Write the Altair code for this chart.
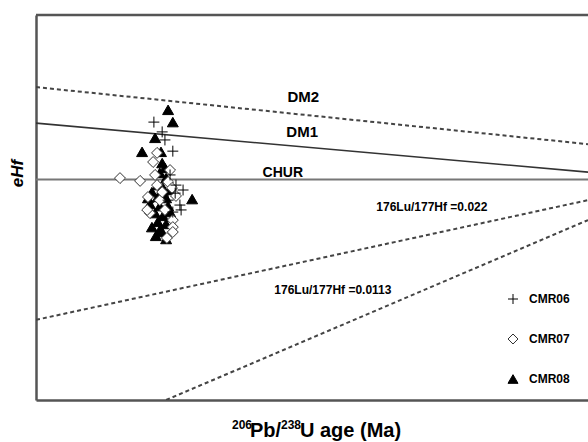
import altair as alt
import pandas as pd

# Zircon Hf isotope data: 206Pb/238U age (Ma) and epsilon Hf
cmr06_age = [299, 320, 327, 347, 340, 373, 353, 365, 368, 347, 355, 335]
cmr06_ehf = [16.4, 13.6, 11.3, 8.1, 1.3, -3.0, -3.9, -7.3, -8.7, -9.3, -1.6, -5.9]

cmr07_age = [213, 264, 307, 297, 302, 307, 284, 289, 314, 335, 345, 327, 347, 347, 347, 332, 282, 320, 355, 340]
cmr07_ehf = [0.4, -0.4, 7.6, 5.0, 1.3, -1.6, -5.0, -9.6, -5.9, -0.7, -2.4, -8.7, -11.6, -13.6, -15.0, -16.7, -8.7, -3.6, -4.7, 2.7]

cmr08_age = [335, 347, 302, 269, 317, 320, 327, 314, 330, 309, 322, 340, 294, 309, 330, 396, 289, 314, 335, 302,
             322, 309, 330, 294, 314, 304, 330, 320, 340, 284]
cmr08_ehf = [19.9, 16.4, 11.9, 7.9, 7.9, 4.7, 3.3, 1.9, 0.4, -1.6, -2.4, -3.0, -3.6, -5.0, -5.3, -5.6, -7.0, -7.6, -7.6, -9.6,
             -10.4, -12.1, -12.7, -13.6, -14.4, -16.1, -17.0, -15.0, -9.3, -5.3]

# Reference evolution lines (start / end points in age, eHf)
ref_names = ["CHUR", "DM1", "DM2", "Lu022", "Lu0113"]
ref_age0 = [0, 0, 0, 0, 330]
ref_age1 = [1400, 1400, 1400, 1400, 1400]
ref_ehf0 = [0, 16.1, 26.4, -40.1, -63]
ref_ehf1 = [0, 2.1, 10.1, -5.9, -11.6]

# Line annotations
label_text = ["DM2", "DM1", "CHUR", "176Lu/177Hf =0.022", "176Lu/177Hf =0.0113"]
label_age = [678, 675, 626, 1004, 753]
label_ehf = [23.6, 13.6, 1.9, -7.9, -31.6]
label_size = [15, 15, 14, 12, 12]

# Legend order
samples = ["CMR06", "CMR07", "CMR08"]

FONT = "Liberation Sans, Arial"
W, H = 552, 385
X_DOMAIN = [0, 1400]
Y_DOMAIN = [-63, 47]

pts = pd.concat([
    pd.DataFrame({"age": cmr08_age, "ehf": cmr08_ehf, "sample": "CMR08"}),
    pd.DataFrame({"age": cmr07_age, "ehf": cmr07_ehf, "sample": "CMR07"}),
    pd.DataFrame({"age": cmr06_age, "ehf": cmr06_ehf, "sample": "CMR06"}),
], ignore_index=True)

refs = pd.DataFrame({"name": ref_names, "a0": ref_age0, "a1": ref_age1, "e0": ref_ehf0, "e1": ref_ehf1})
labels = pd.DataFrame({"text": label_text, "age": label_age, "ehf": label_ehf, "fs": label_size})

xs = alt.Scale(domain=X_DOMAIN, nice=False, zero=False)
ys = alt.Scale(domain=Y_DOMAIN, nice=False, zero=False)

frame_color = "#555555"
x_axis = alt.Axis(title=None, ticks=False, labels=False, grid=False, domainColor=frame_color, domainWidth=2.5)
y_axis = alt.Axis(title="eHf", ticks=False, labels=False, grid=False, domainColor=frame_color, domainWidth=2.5,
                  titleFont=FONT, titleFontSize=17, titleFontStyle="italic", titleFontWeight="bold",
                  titleColor="black", titleX=-19, titleY=158, titleAngle=270,
                  titleAlign="center", titleBaseline="middle")

base_refs = alt.Chart(refs)


def ref_layer(names, color, width, dash=None):
    kw = dict(color=color, strokeWidth=width, clip=True)
    if dash:
        kw["strokeDash"] = dash
    return base_refs.transform_filter(
        alt.FieldOneOfPredicate(field="name", oneOf=names)
    ).mark_rule(**kw).encode(
        x=alt.X("a0:Q", scale=xs, axis=x_axis),
        x2="a1:Q",
        y=alt.Y("e0:Q", scale=ys, axis=y_axis),
        y2="e1:Q",
    )


chur = ref_layer(["CHUR"], "#777777", 2)
dm1 = ref_layer(["DM1"], "#333333", 1.6)
dashed = ref_layer(["DM2", "Lu022", "Lu0113"], "#444444", 2, [4, 3])

legend = alt.Legend(title=None, orient="none", legendX=471, legendY=278, direction="vertical",
                    labelFont=FONT, labelFontSize=12, labelFontWeight="bold", labelColor="black",
                    symbolSize=100, symbolStrokeWidth=1, rowPadding=26, labelOffset=10, padding=0)

cross_path = "M-1,0H1M0,-1V1"
points = alt.Chart(pts).mark_point(size=120, strokeWidth=1, opacity=1, filled=False).encode(
    x=alt.X("age:Q", scale=xs, axis=x_axis),
    y=alt.Y("ehf:Q", scale=ys, axis=y_axis),
    shape=alt.Shape("sample:N", scale=alt.Scale(domain=samples, range=[cross_path, "diamond", "triangle-up"]),
                    legend=legend),
    fill=alt.Fill("sample:N", scale=alt.Scale(domain=samples, range=["transparent", "white", "black"]),
                  legend=legend),
    stroke=alt.Stroke("sample:N", scale=alt.Scale(domain=samples, range=["black", "#333333", "black"]),
                      legend=legend),
)

texts = alt.Chart(labels).mark_text(font=FONT, fontWeight="bold", color="black", align="center",
                                     baseline="middle").encode(
    x=alt.X("age:Q", scale=xs, axis=x_axis),
    y=alt.Y("ehf:Q", scale=ys, axis=y_axis),
    text="text:N",
    size=alt.Size("fs:Q", scale=None),
)

# Top edge of the frame
top_edge = alt.Chart(pd.DataFrame({"k": [0]})).mark_rule(color=frame_color, strokeWidth=2.5).encode(
    x=alt.value(0), x2=alt.value(W), y=alt.value(0)
)

# x-axis title with superscript isotope masses
xt_text = ["206", "Pb/", "238", "U age (Ma)"]
xt_x = [196, 214, 245, 264]
xt_y = [414, 422, 414, 422]
xt_size = [12, 20, 12, 20]
xtitle = alt.Chart(pd.DataFrame({"t": xt_text, "px": xt_x, "py": xt_y, "fs": xt_size})).mark_text(
    font=FONT, fontWeight="bold", color="black", align="left", baseline="alphabetic"
).encode(
    x=alt.X("px:Q", scale=None), y=alt.Y("py:Q", scale=None), text="t:N", size=alt.Size("fs:Q", scale=None)
)

chart = alt.layer(chur, dm1, dashed, points, texts, top_edge, xtitle).resolve_scale(
    x="shared", y="shared"
).properties(
    width=W, height=H,
    autosize=alt.AutoSizeParams(type="none"),
    padding={"left": 36, "top": 15, "right": 0, "bottom": 42},
).configure_view(stroke=None).configure(background="white")

chart.save("out.html", embed_options={"renderer": "svg", "actions": False})
